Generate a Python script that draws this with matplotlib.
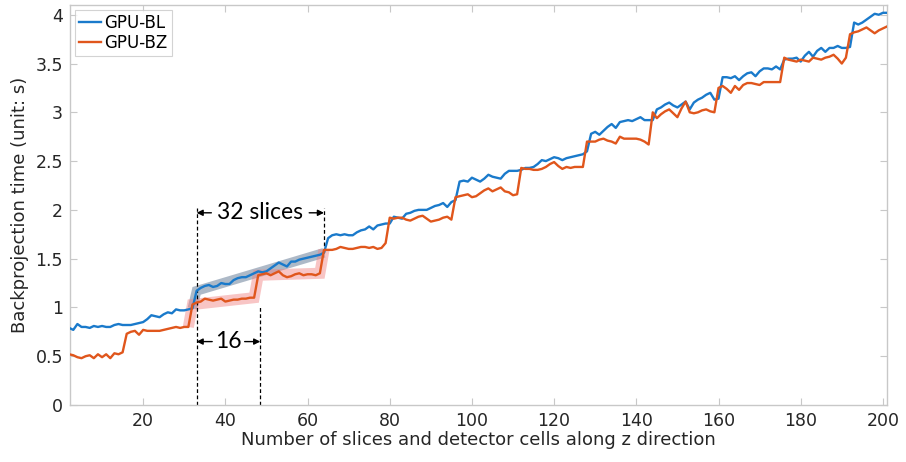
import numpy as np
import matplotlib
matplotlib.use("Agg")
import matplotlib.pyplot as plt

# ---- data -------------------------------------------------------------
x_start = 2
gpu_bl = [
    0.79, 0.77, 0.83, 0.80, 0.80, 0.79, 0.81, 0.80, 0.81, 0.80,   # 2-11
    0.80, 0.82, 0.83, 0.82, 0.82, 0.82, 0.83, 0.84, 0.85, 0.88,   # 12-21
    0.92, 0.91, 0.90, 0.93, 0.95, 0.94, 0.98, 0.97, 0.97, 0.98,   # 22-31
    0.99, 1.17, 1.20, 1.22, 1.23, 1.21, 1.22, 1.25, 1.24, 1.24,   # 32-41
    1.28, 1.30, 1.31, 1.31, 1.33, 1.35, 1.37, 1.36, 1.37, 1.40,   # 42-51
    1.43, 1.46, 1.44, 1.42, 1.47, 1.47, 1.49, 1.50, 1.51, 1.52,   # 52-61
    1.53, 1.54, 1.56, 1.71, 1.74, 1.75, 1.74, 1.75, 1.74, 1.74,   # 62-71
    1.77, 1.79, 1.80, 1.83, 1.80, 1.84, 1.85, 1.86, 1.86, 1.93,   # 72-81
    1.92, 1.91, 1.96, 1.97, 1.99, 2.00, 2.00, 2.00, 2.02, 2.04,   # 82-91
    2.05, 2.07, 2.03, 2.08, 2.10, 2.29, 2.30, 2.29, 2.33, 2.31,   # 92-101
    2.29, 2.32, 2.36, 2.34, 2.33, 2.32, 2.37, 2.40, 2.40, 2.40,   # 102-111
    2.41, 2.43, 2.43, 2.44, 2.47, 2.51, 2.50, 2.52, 2.54, 2.53,   # 112-121
    2.51, 2.53, 2.54, 2.55, 2.56, 2.57, 2.60, 2.78, 2.80, 2.77,   # 122-131
    2.81, 2.85, 2.88, 2.84, 2.90, 2.91, 2.92, 2.91, 2.93, 2.95,   # 132-141
    2.92, 2.92, 2.92, 3.03, 3.05, 3.08, 3.10, 3.07, 3.05, 3.08,   # 142-151
    3.11, 3.03, 3.10, 3.13, 3.15, 3.18, 3.20, 3.13, 3.14, 3.36,   # 152-161
    3.36, 3.35, 3.37, 3.33, 3.37, 3.40, 3.41, 3.37, 3.42, 3.45,   # 162-171
    3.45, 3.44, 3.47, 3.44, 3.54, 3.55, 3.55, 3.56, 3.52, 3.58,   # 172-181
    3.62, 3.57, 3.63, 3.66, 3.62, 3.66, 3.66, 3.68, 3.66, 3.66,   # 182-191
    3.67, 3.92, 3.90, 3.92, 3.95, 3.98, 4.01, 4.00, 4.02, 4.02,   # 192-201
]
gpu_bz = [
    0.52, 0.51, 0.49, 0.48, 0.50, 0.51, 0.48, 0.52, 0.49, 0.52,   # 2-11
    0.48, 0.53, 0.52, 0.54, 0.73, 0.75, 0.76, 0.72, 0.77, 0.76,   # 12-21
    0.76, 0.76, 0.76, 0.77, 0.78, 0.79, 0.80, 0.79, 0.80, 0.80,   # 22-31
    1.03, 1.05, 1.06, 1.09, 1.08, 1.07, 1.08, 1.09, 1.06, 1.07,   # 32-41
    1.08, 1.08, 1.09, 1.09, 1.10, 1.10, 1.33, 1.34, 1.35, 1.33,   # 42-51
    1.35, 1.37, 1.33, 1.31, 1.32, 1.34, 1.35, 1.33, 1.34, 1.34,   # 52-61
    1.33, 1.35, 1.59, 1.59, 1.59, 1.60, 1.62, 1.61, 1.60, 1.60,   # 62-71
    1.61, 1.62, 1.62, 1.61, 1.62, 1.60, 1.61, 1.66, 1.92, 1.91,   # 72-81
    1.92, 1.92, 1.90, 1.89, 1.91, 1.93, 1.94, 1.91, 1.88, 1.89,   # 82-91
    1.90, 1.92, 1.93, 1.90, 2.13, 2.14, 2.15, 2.16, 2.13, 2.14,   # 92-101
    2.17, 2.20, 2.22, 2.19, 2.21, 2.23, 2.19, 2.18, 2.15, 2.16,   # 102-111
    2.43, 2.42, 2.42, 2.41, 2.41, 2.42, 2.44, 2.47, 2.49, 2.45,   # 112-121
    2.42, 2.44, 2.43, 2.44, 2.44, 2.44, 2.70, 2.70, 2.70, 2.72,   # 122-131
    2.73, 2.71, 2.70, 2.68, 2.75, 2.73, 2.73, 2.73, 2.73, 2.72,   # 132-141
    2.70, 2.67, 3.00, 2.94, 2.98, 3.01, 3.03, 2.99, 2.95, 3.04,   # 142-151
    3.11, 3.00, 2.99, 3.00, 3.02, 3.03, 3.01, 3.00, 3.25, 3.27,   # 152-161
    3.24, 3.20, 3.27, 3.23, 3.28, 3.30, 3.30, 3.29, 3.28, 3.31,   # 162-171
    3.31, 3.31, 3.31, 3.31, 3.56, 3.54, 3.53, 3.52, 3.54, 3.53,   # 172-181
    3.52, 3.56, 3.55, 3.54, 3.56, 3.57, 3.59, 3.55, 3.50, 3.56,   # 182-191
    3.80, 3.82, 3.83, 3.85, 3.87, 3.84, 3.81, 3.84, 3.86, 3.88,   # 192-201
]
series_names = ["GPU-BL", "GPU-BZ"]
x_ticks = [20, 40, 60, 80, 100, 120, 140, 160, 180, 200]
y_ticks = [0, 0.5, 1, 1.5, 2, 2.5, 3, 3.5, 4]
y_tick_labels = ["0", "0.5", "1", "1.5", "2", "2.5", "3", "3.5", "4"]
period_long = 32
period_short = 16
first_start = 33

# ---- figure -----------------------------------------------------------
x = np.arange(x_start, x_start + len(gpu_bl))
bl = np.array(gpu_bl)
bz = np.array(gpu_bz)

fig = plt.figure(figsize=(9.06, 4.62), dpi=100)
ax = fig.add_axes([70 / 906, 57 / 462, 817 / 906, 400 / 462])

blue = "#1a7acb"
orange = "#e0561c"

def v(arr, xv):
    return arr[int(xv) - x_start]

# highlight bands derived from data
s = first_start
e = first_start + period_long - 1          # 64
bx = [s - 1, s, e]
by = [v(bl, s - 1), v(bl, s), v(bl, e)]
ax.plot(bx, by, color="#4a6484", lw=7, alpha=0.45, solid_capstyle="butt",
        solid_joinstyle="miter", zorder=1)
ox = [s - 2, s - 1, s + period_short - 2, s + period_short - 1,
      e - 1, e]
oy = [v(bz, s - 2), v(bz, s - 1), v(bz, s + period_short - 2),
      v(bz, s + period_short - 1), v(bz, e - 1), v(bz, e)]
ax.plot(ox, oy, color="#f08080", lw=8, alpha=0.45, solid_capstyle="butt",
        solid_joinstyle="miter", zorder=1)

ax.plot(x, bl, color=blue, lw=1.7, label=series_names[0], zorder=3)
ax.plot(x, bz, color=orange, lw=1.7, label=series_names[1], zorder=3)

ax.set_xlim(2.2, 201)
ax.set_ylim(0, 4.1)
ax.set_xticks(x_ticks)
ax.set_yticks(y_ticks)
ax.set_yticklabels(y_tick_labels)

for sp in ax.spines.values():
    sp.set_color("#c8c8c8")
    sp.set_linewidth(1.0)
ax.tick_params(direction="in", length=5, width=0.8, color="#c8c8c8",
               top=True, right=True, labelsize=12.5, labelcolor="#262626",
               pad=5)

ax.set_xlabel("Number of slices and detector cells along z direction",
              fontsize=13, color="#262626", labelpad=1)
ax.set_ylabel("Backprojection time (unit: s)", fontsize=13,
              color="#262626", labelpad=5)

# annotations
x16 = s + period_short - 1 + 0.5   # 48.5
ax.plot([s, s], [0, 2.02], ls=(0, (3, 2)), color="black", lw=0.9, zorder=2)
ax.plot([e, e], [1.57, 2.02], ls=(0, (3, 2)), color="black", lw=0.9, zorder=2)
ax.plot([x16, x16], [0, 1.03], ls=(0, (3, 2)), color="black", lw=0.9, zorder=2)

arrow_kw = dict(arrowstyle="-|>", color="black", lw=1,
                mutation_scale=9, shrinkA=0, shrinkB=0)
ax.annotate("", xy=(s, 1.97), xytext=(s + 3.6, 1.97), arrowprops=arrow_kw)
ax.annotate("", xy=(e, 1.97), xytext=(e - 3.6, 1.97), arrowprops=arrow_kw)
ax.text((s + e) / 2, 1.97, f"{period_long} slices", ha="center",
        va="center", fontsize=16.5, family=["Lato", "DejaVu Sans"])

ax.annotate("", xy=(s, 0.65), xytext=(s + 3.8, 0.65), arrowprops=arrow_kw)
ax.annotate("", xy=(x16, 0.65), xytext=(x16 - 3.8, 0.65), arrowprops=arrow_kw)
ax.text((s + x16) / 2, 0.65, f"{period_short}", ha="center",
        va="center", fontsize=16.5, family=["Lato", "DejaVu Sans"])

leg = ax.legend(loc="upper left", fontsize=12, frameon=True, fancybox=False,
                handlelength=1.3, handletextpad=0.2, borderpad=0.25,
                labelspacing=0.1, borderaxespad=0.3)
leg.get_frame().set_edgecolor("#c8c8c8")
leg.get_frame().set_linewidth(0.8)

fig.savefig("out.png", dpi=100)
